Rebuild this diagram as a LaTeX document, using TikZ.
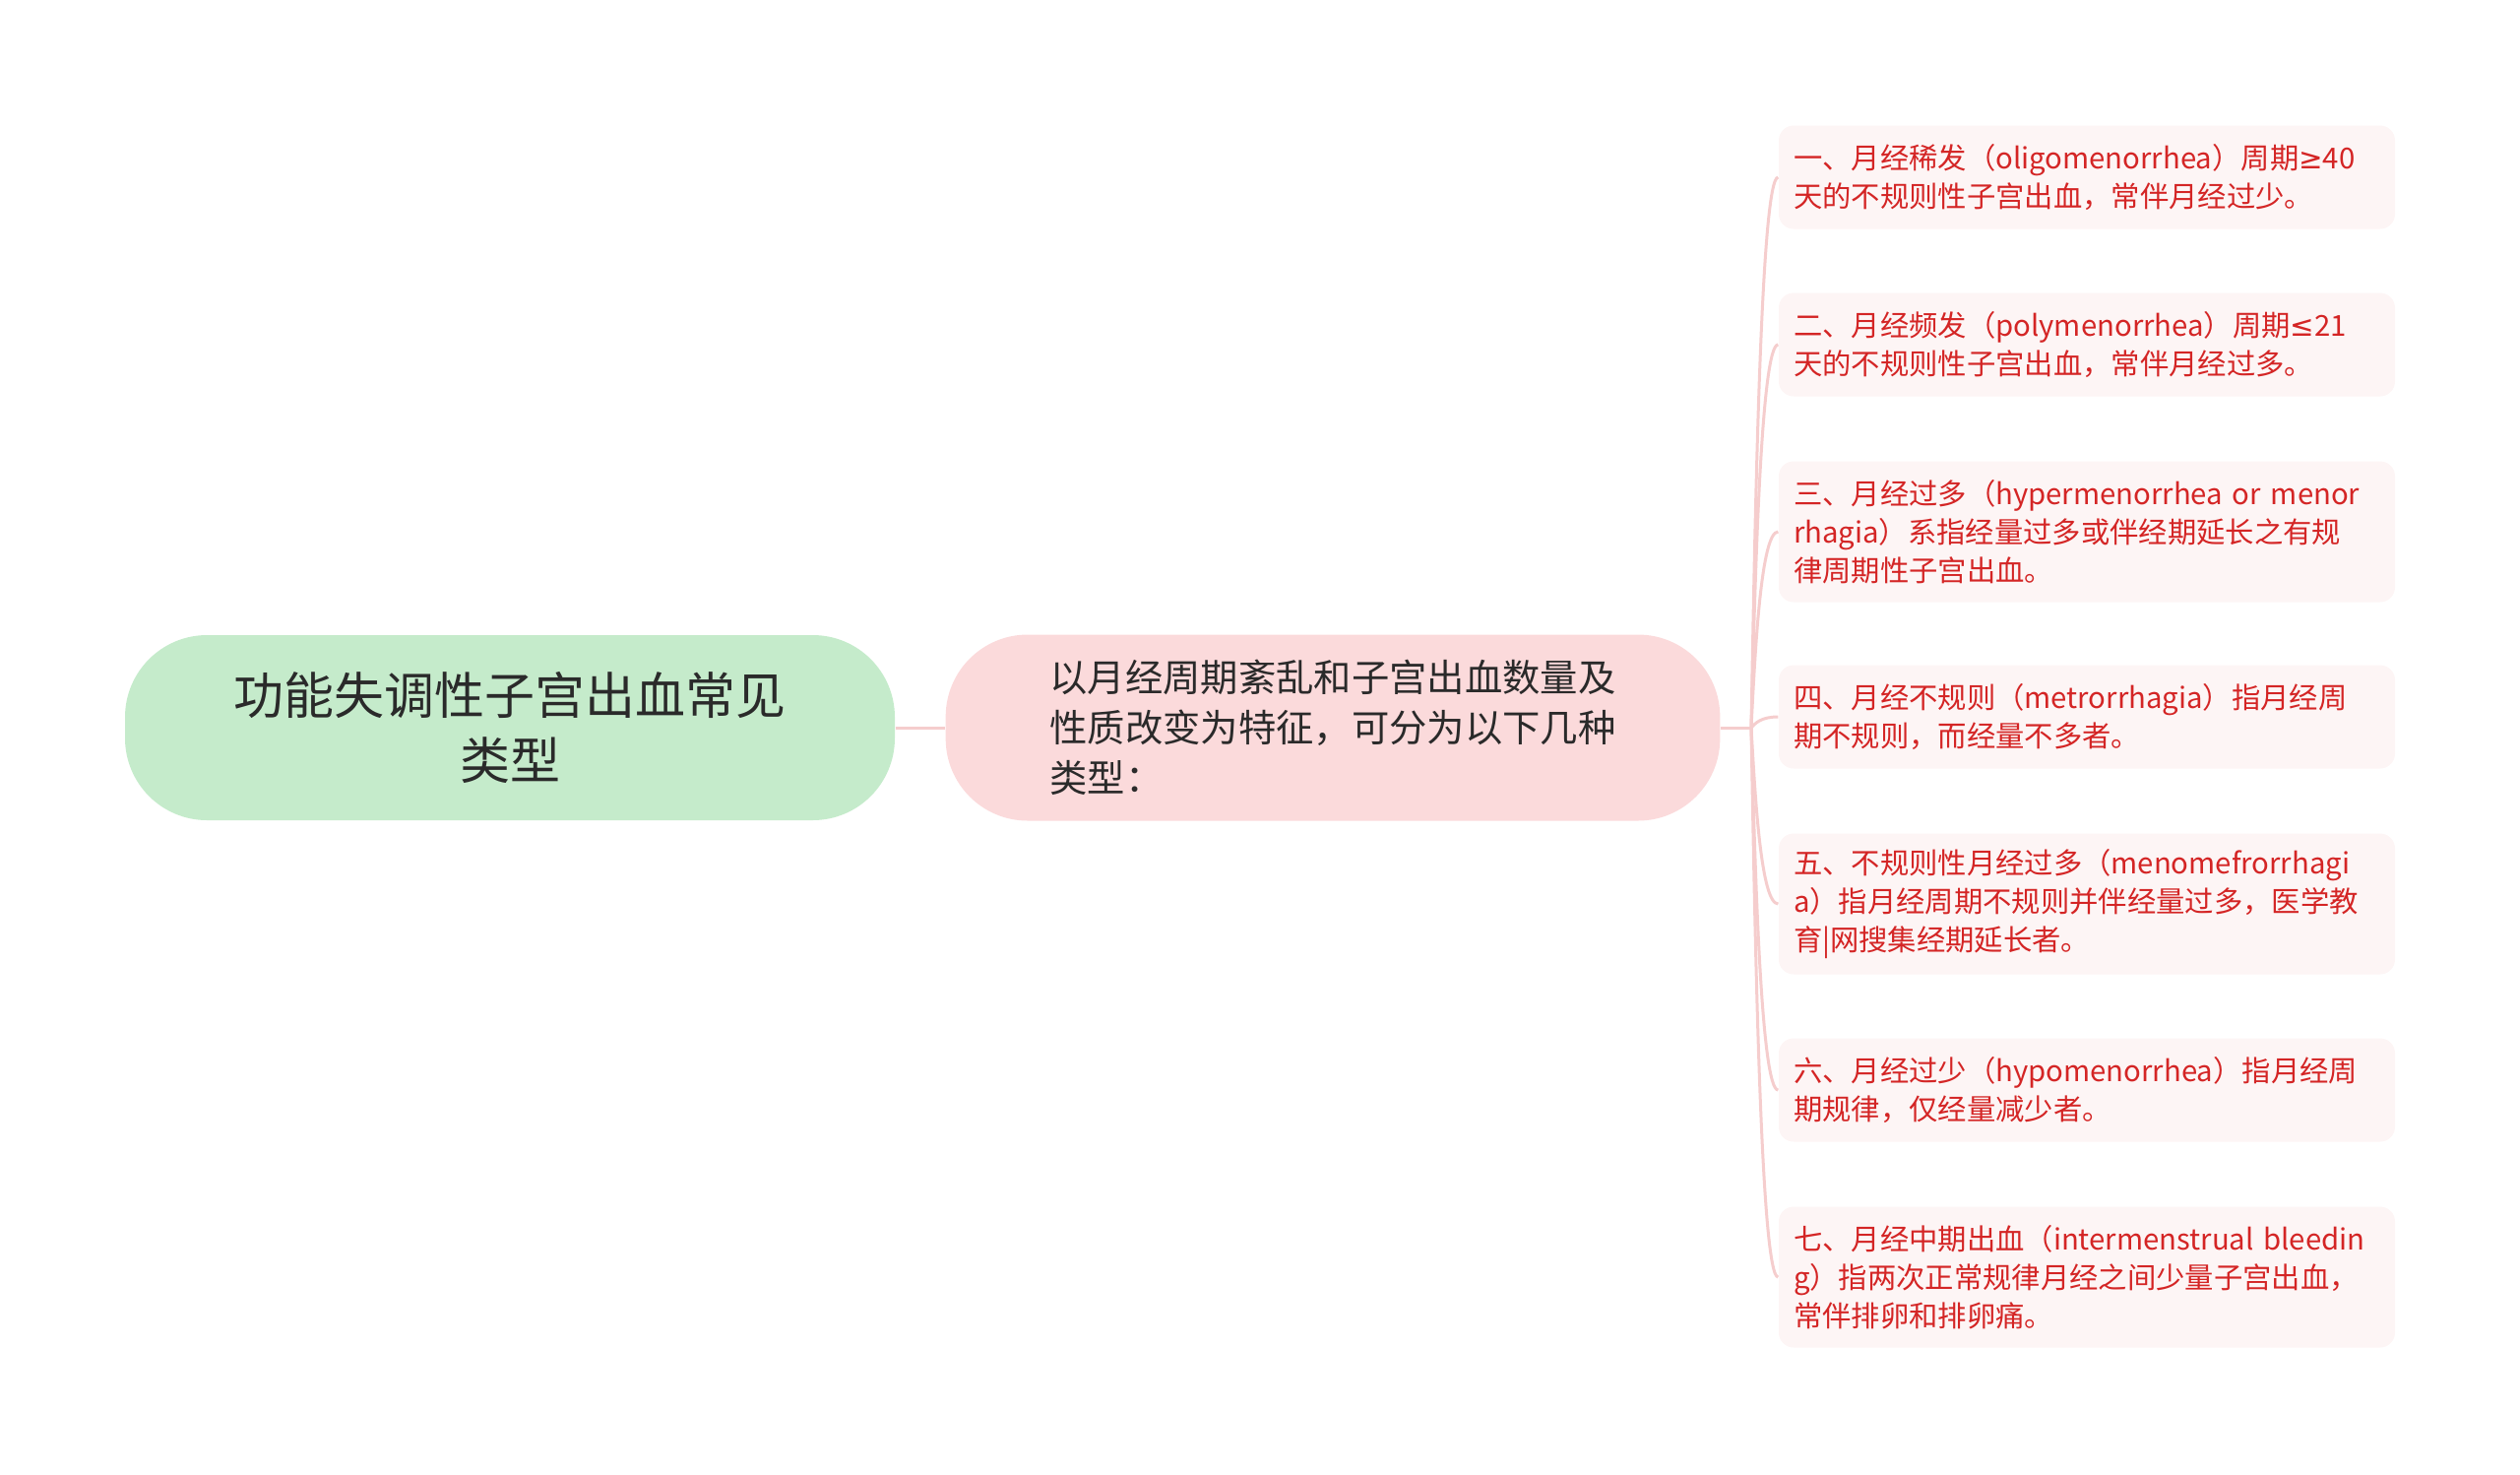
\documentclass[tikz,border=0pt]{standalone}
\usepackage{fontspec}
\setmainfont{Noto Sans CJK SC}
\newfontfamily\gefont{DejaVu Sans}
\usetikzlibrary{calc}

\definecolor{rootfill}{HTML}{C5EBCB}
\definecolor{midfill}{HTML}{FBDADB}
\definecolor{boxfill}{HTML}{FDF5F5}
\definecolor{linkpink}{HTML}{F5CDCD}
\definecolor{leafred}{HTML}{D42525}
\definecolor{darktext}{HTML}{2A2A2A}

\tikzset{
	rootnode/.style={fill=rootfill,rounded corners=25pt,minimum width=234.6pt,minimum height=56.4pt,
		align=center,text=darktext,font=\fontsize{15.3}{19.6}\selectfont},
	midnode/.style={fill=midfill,rounded corners=25pt,minimum width=236pt,minimum height=56.7pt,
		align=left,text=darktext,font=\fontsize{11.5}{15.3}\selectfont},
	leafbox/.style={fill=boxfill,rounded corners=4.5pt,text width=178.8pt,inner xsep=4.5pt,inner ysep=0pt,
		align=left,text=leafred,font=\fontsize{8.8}{11.7}\selectfont},
	link/.style={draw=linkpink,line width=0.9pt}
}

\begin{document}
\begin{tikzpicture}[x=0.3pt,y=-0.3pt]
	\useasboundingbox (0,0) rectangle (2560,1497);
	% main nodes
	\node[rootnode] (root) at (518,739) {功能失调性子宫出血常见\\类型};
	\node[midnode] (mid) at (1354,739) {以月经周期紊乱和子宫出血数量及\\性质改变为特征，可分为以下几种\\类型：};
	\coordinate (J) at (1779,739);
	% leaves
	\node[leafbox,minimum height=31.5pt] (b1) at (2120,180) {一、月经稀发（oligomenorrhea）周期{\gefont ≥}40\\天的不规则性子宫出血，常伴月经过少。};
	\node[leafbox,minimum height=31.5pt] (b2) at (2120,350) {二、月经频发（polymenorrhea）周期{\gefont ≤}21\\天的不规则性子宫出血，常伴月经过多。};
	\node[leafbox,minimum height=42.9pt] (b3) at (2120,540) {三、月经过多（hypermenorrhea~or~menor\\rhagia）系指经量过多或伴经期延长之有规\\律周期性子宫出血。};
	\node[leafbox,minimum height=31.5pt] (b4) at (2120,728) {四、月经不规则（metrorrhagia）指月经周\\期不规则，而经量不多者。};
	\node[leafbox,minimum height=42.9pt] (b5) at (2120,918) {五、不规则性月经过多（menomefrorrhagi\\a）指月经周期不规则并伴经量过多，医学教\\育|网搜集经期延长者。};
	\node[leafbox,minimum height=31.5pt] (b6) at (2120,1107) {六、月经过少（hypomenorrhea）指月经周\\期规律，仅经量减少者。};
	\node[leafbox,minimum height=42.9pt] (b7) at (2120,1297) {七、月经中期出血（intermenstrual~bleedin\\g）指两次正常规律月经之间少量子宫出血，\\常伴排卵和排卵痛。};
	% connectors
	\draw[link] (root) -- (mid);
	\draw[link] (mid.east) -- (J);
	\foreach \n in {1,...,7}{
		\draw[link] (J) .. controls ($(J)!0.4!(J|-b\n.west)+(4,0)$) and ($(J|-b\n.west)+(10,0)$) .. (b\n.west);
	}
\end{tikzpicture}
\end{document}
